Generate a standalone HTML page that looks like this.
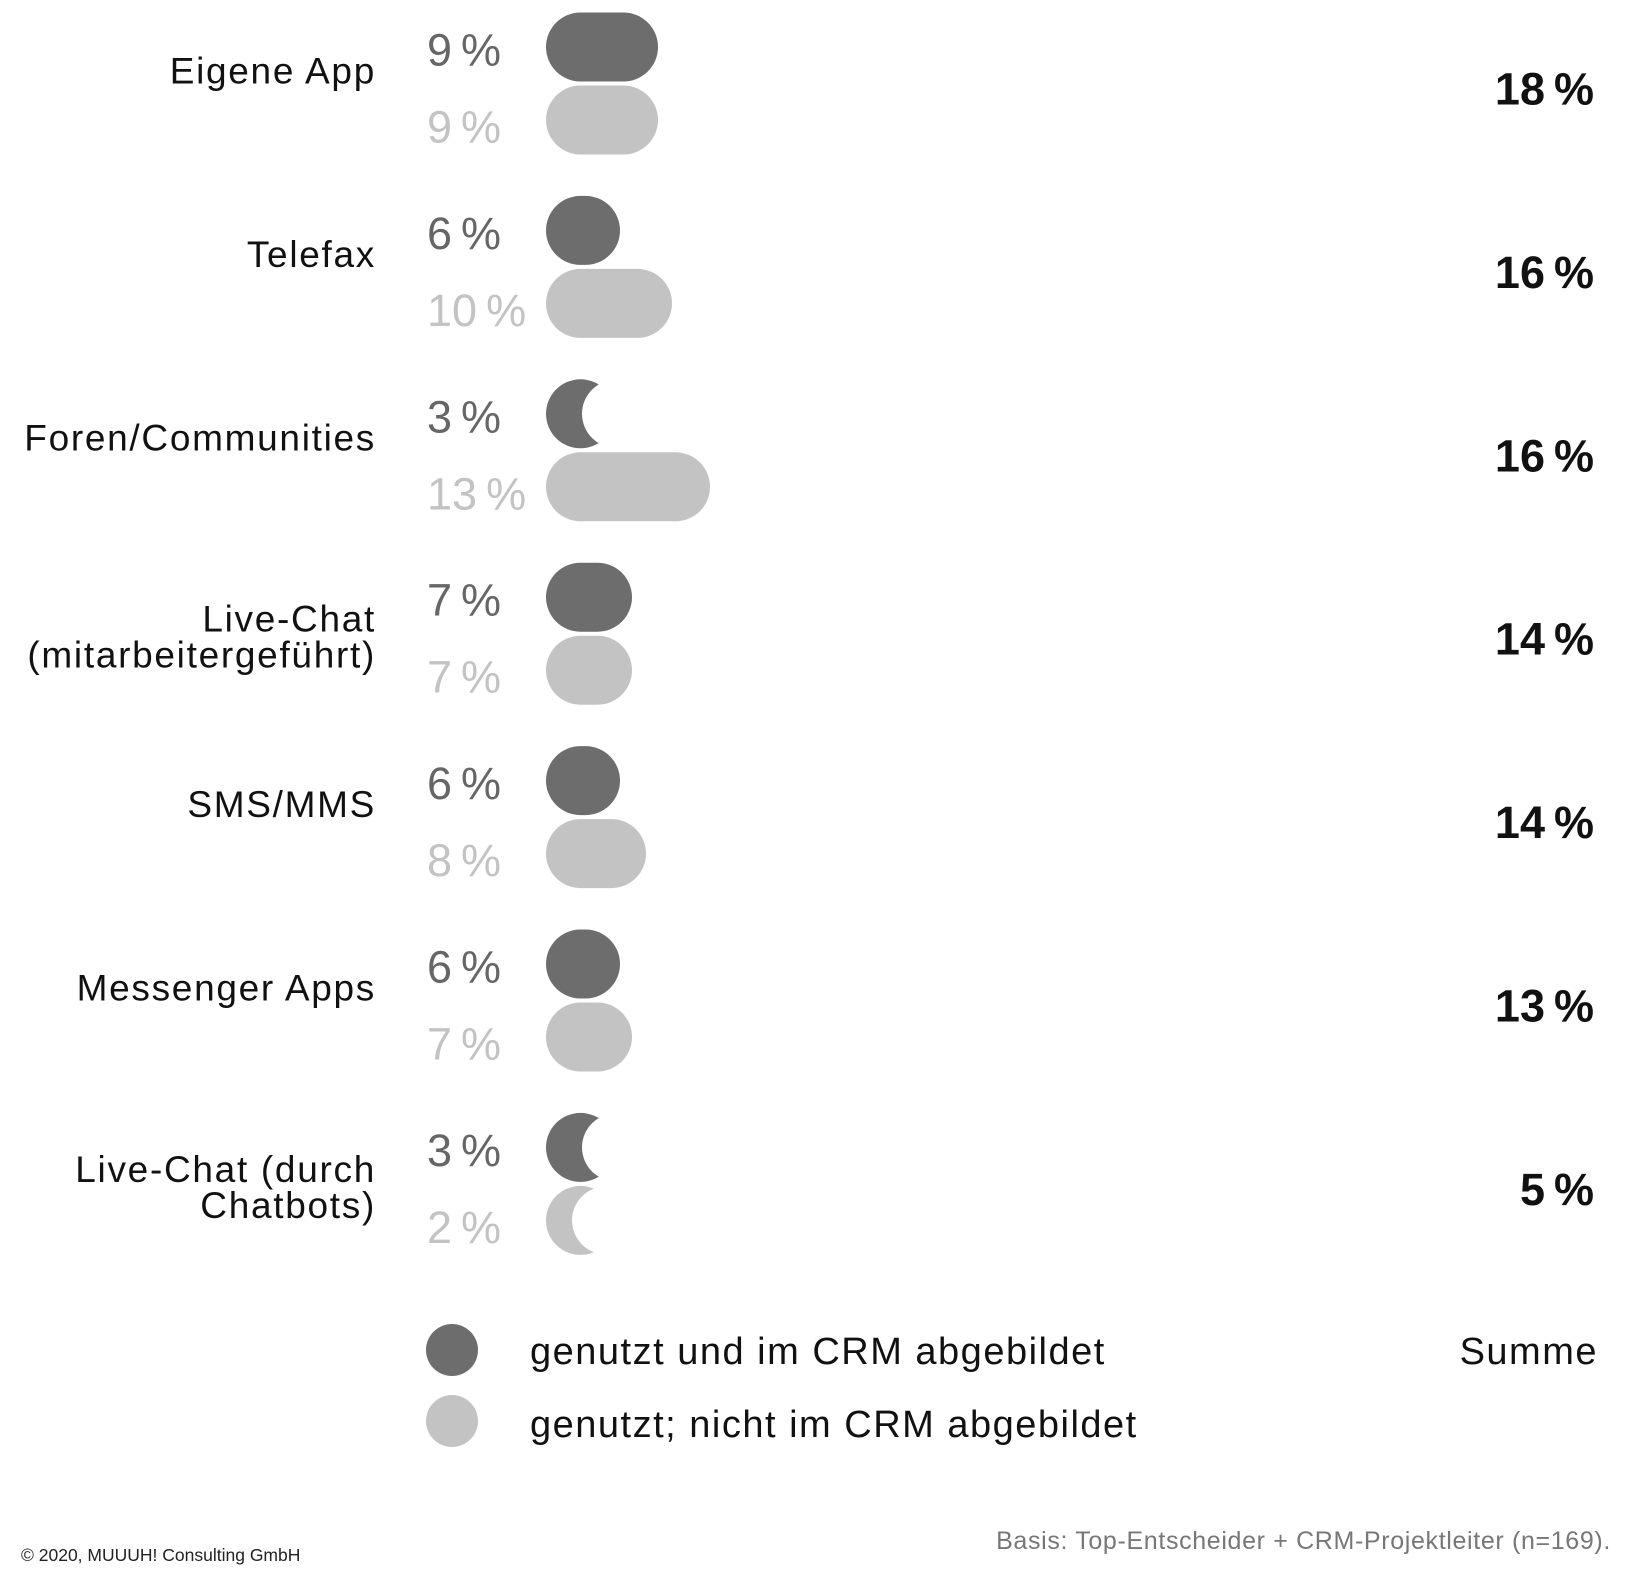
<!DOCTYPE html>
<html><head><meta charset="utf-8"><style>
html,body{margin:0;padding:0;background:#fff;}
svg{display:block;}
text{font-family:"Liberation Sans","DejaVu Sans",sans-serif;}
.lab{font-size:37px;fill:#111;letter-spacing:1.7px;}
.pd{font-size:45px;fill:#666;}
.pl{font-size:45px;fill:#c3c3c3;}
.tot{font-size:45px;font-weight:bold;fill:#111;}
</style></head><body>
<svg width="1630" height="1580" viewBox="0 0 1630 1580" xmlns="http://www.w3.org/2000/svg">
<g transform="translate(0,12.5)">
<text x="376" y="71" text-anchor="end" class="lab">Eigene App</text>
<text x="427" y="53" class="pd">9&#8201;%</text>
<text x="427" y="130" class="pl">9&#8201;%</text>
<rect x="546" y="0" width="112" height="69" rx="34.5" fill="#6d6d6d"/>
<rect x="546" y="73" width="112" height="69" rx="34.5" fill="#c3c3c3"/>
<text x="1594" y="92" text-anchor="end" class="tot">18&#8201;%</text>
</g>
<g transform="translate(0,195.9)">
<text x="376" y="71" text-anchor="end" class="lab">Telefax</text>
<text x="427" y="53" class="pd">6&#8201;%</text>
<text x="427" y="130" class="pl">10&#8201;%</text>
<rect x="546" y="0" width="74" height="69" rx="34.5" fill="#6d6d6d"/>
<rect x="546" y="73" width="126" height="69" rx="34.5" fill="#c3c3c3"/>
<text x="1594" y="92" text-anchor="end" class="tot">16&#8201;%</text>
</g>
<g transform="translate(0,379.3)">
<text x="376" y="71" text-anchor="end" class="lab">Foren/Communities</text>
<text x="427" y="53" class="pd">3&#8201;%</text>
<text x="427" y="130" class="pl">13&#8201;%</text>
<circle cx="580.5" cy="34.5" r="34.5" fill="#6d6d6d"/>
<circle cx="616" cy="34.5" r="34" fill="#fff"/>
<rect x="546" y="73" width="164" height="69" rx="34.5" fill="#c3c3c3"/>
<text x="1594" y="92" text-anchor="end" class="tot">16&#8201;%</text>
</g>
<g transform="translate(0,562.7)">
<text x="376" y="69" text-anchor="end" class="lab">Live-Chat</text>
<text x="376" y="105" text-anchor="end" class="lab">(mitarbeitergeführt)</text>
<text x="427" y="53" class="pd">7&#8201;%</text>
<text x="427" y="130" class="pl">7&#8201;%</text>
<rect x="546" y="0" width="86" height="69" rx="34.5" fill="#6d6d6d"/>
<rect x="546" y="73" width="86" height="69" rx="34.5" fill="#c3c3c3"/>
<text x="1594" y="92" text-anchor="end" class="tot">14&#8201;%</text>
</g>
<g transform="translate(0,746.1)">
<text x="376" y="71" text-anchor="end" class="lab">SMS/MMS</text>
<text x="427" y="53" class="pd">6&#8201;%</text>
<text x="427" y="130" class="pl">8&#8201;%</text>
<rect x="546" y="0" width="74" height="69" rx="34.5" fill="#6d6d6d"/>
<rect x="546" y="73" width="100" height="69" rx="34.5" fill="#c3c3c3"/>
<text x="1594" y="92" text-anchor="end" class="tot">14&#8201;%</text>
</g>
<g transform="translate(0,929.5)">
<text x="376" y="71" text-anchor="end" class="lab">Messenger Apps</text>
<text x="427" y="53" class="pd">6&#8201;%</text>
<text x="427" y="130" class="pl">7&#8201;%</text>
<rect x="546" y="0" width="74" height="69" rx="34.5" fill="#6d6d6d"/>
<rect x="546" y="73" width="86" height="69" rx="34.5" fill="#c3c3c3"/>
<text x="1594" y="92" text-anchor="end" class="tot">13&#8201;%</text>
</g>
<g transform="translate(0,1112.9)">
<text x="376" y="69" text-anchor="end" class="lab">Live-Chat (durch</text>
<text x="376" y="105" text-anchor="end" class="lab">Chatbots)</text>
<text x="427" y="53" class="pd">3&#8201;%</text>
<text x="427" y="130" class="pl">2&#8201;%</text>
<circle cx="580.5" cy="34.5" r="34.5" fill="#6d6d6d"/>
<circle cx="616" cy="34.5" r="34" fill="#fff"/>
<circle cx="580.5" cy="107.5" r="34.5" fill="#c3c3c3"/>
<circle cx="606" cy="107.5" r="34" fill="#fff"/>
<text x="1594" y="92" text-anchor="end" class="tot">5&#8201;%</text>
</g>
<circle cx="452" cy="1350" r="26" fill="#6d6d6d"/>
<circle cx="452" cy="1421" r="26" fill="#c3c3c3"/>
<text x="530" y="1364" font-size="38" fill="#111" letter-spacing="1.5">genutzt und im CRM abgebildet</text>
<text x="530" y="1437" font-size="38" fill="#111" letter-spacing="1.5">genutzt; nicht im CRM abgebildet</text>
<text x="1598" y="1364" text-anchor="end" font-size="38" fill="#111" letter-spacing="1.5">Summe</text>
<text x="21" y="1561" font-size="17.5" fill="#222">© 2020, MUUUH! Consulting GmbH</text>
<text x="1611" y="1549" text-anchor="end" font-size="25" fill="#777" letter-spacing="0.65">Basis: Top-Entscheider + CRM-Projektleiter (n=169).</text>
</svg>
</body></html>
